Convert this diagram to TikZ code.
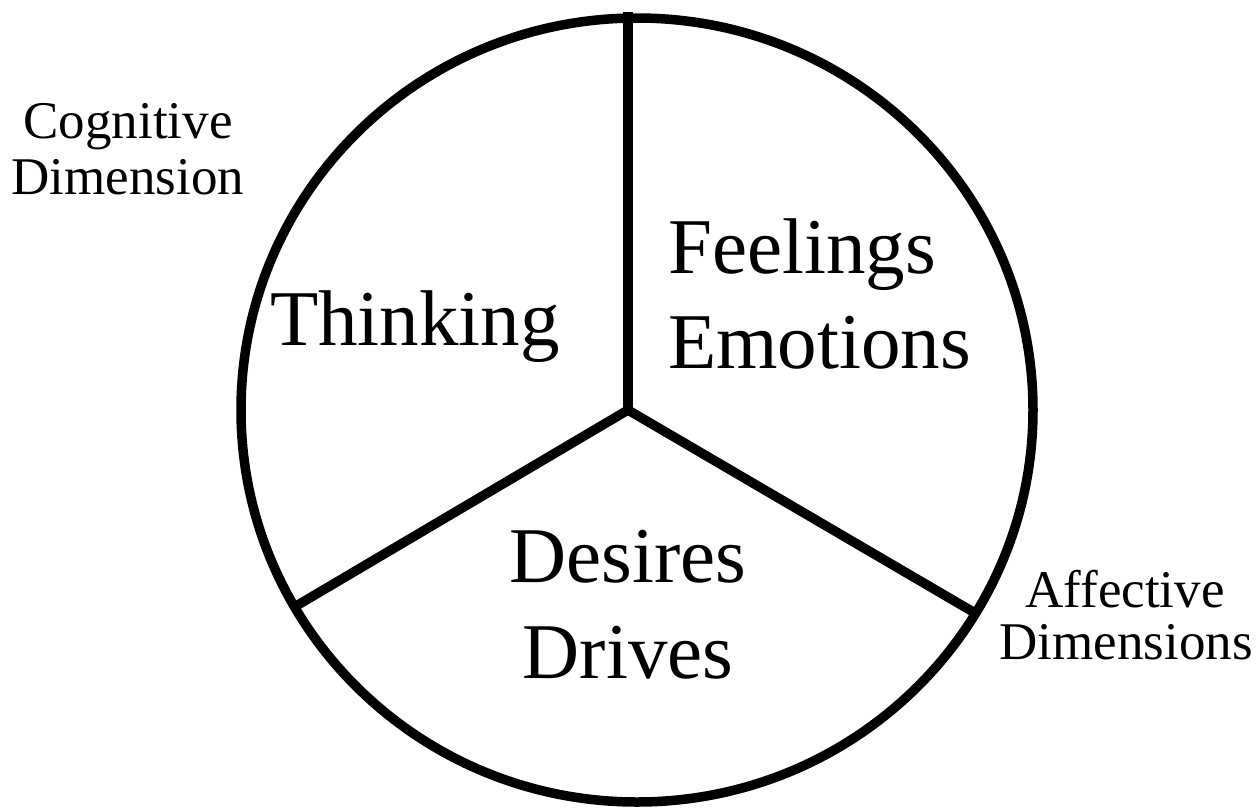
\documentclass[tikz,border=0pt]{standalone}
\usepackage{fontspec}
\setmainfont{Liberation Serif}
\begin{document}
\begin{tikzpicture}[x=1pt,y=-1pt,
  ring/.style={line width=9.5pt},
  spoke/.style={line width=9.5pt,line cap=butt},
  big/.style={inner sep=0pt,font=\fontsize{79}{96}\selectfont},
  small/.style={inner sep=0pt,font=\fontsize{53}{57}\selectfont}]
\useasboundingbox (0,0) rectangle (1259,807);
\draw[ring] (637,410) ellipse [x radius=396, y radius=392];
\coordinate (hub) at (628,410);
\coordinate (topend) at (628,12);
\coordinate (leftend) at (291,609);
\coordinate (rightend) at (975,613);
\draw[spoke] (hub) -- (topend);
\draw[spoke] (hub) -- (leftend);
\draw[spoke] (hub) -- (rightend);
\node[big,anchor=base west] (think) at (270,345) {Thinking};
\node[big,anchor=base west] (feel1) at (668,273) {Feelings};
\node[big,anchor=base west] (feel2) at (668,368) {Emotions};
\node[big,anchor=base] (des1) at (628,582) {Desires};
\node[big,anchor=base] (des2) at (628,678) {Drives};
\node[small,anchor=base] (cog1) at (128,138) {Cognitive};
\node[small,anchor=base] (cog2) at (128,194) {Dimension};
\node[small,anchor=base] (aff1) at (1125,607) {Affective};
\node[small,anchor=base] (aff2) at (1126,659) {Dimensions};
\end{tikzpicture}
\end{document}
